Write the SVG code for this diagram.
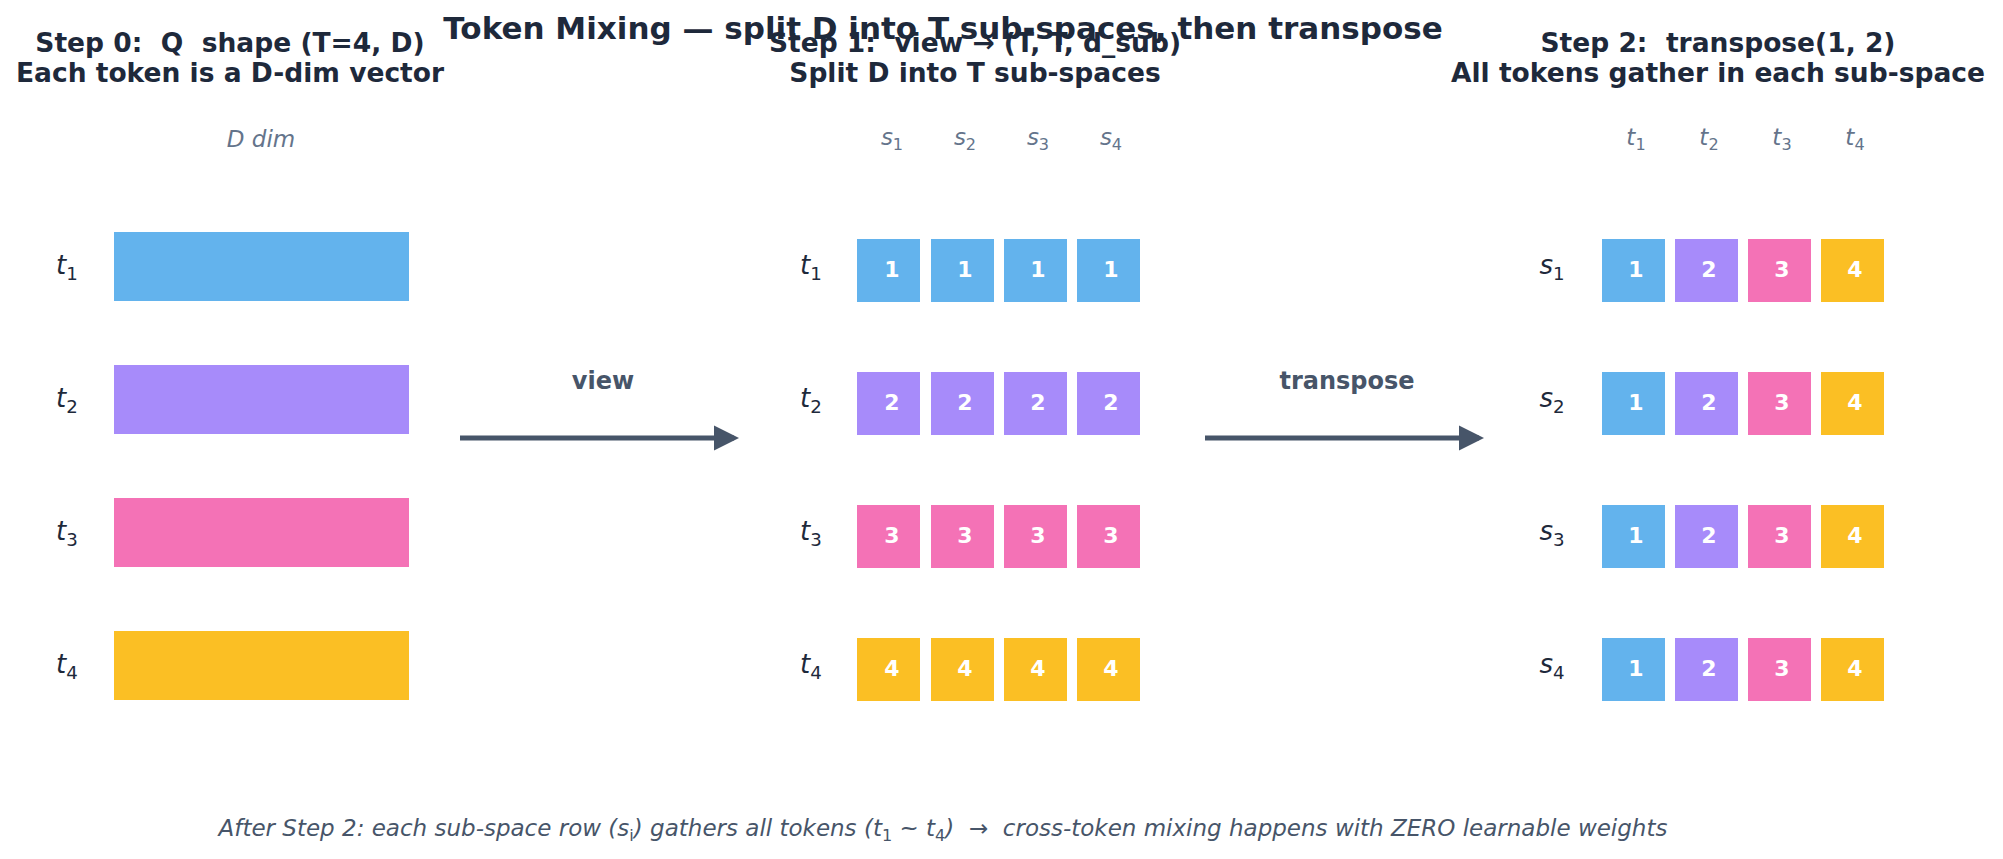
<svg xmlns="http://www.w3.org/2000/svg" width="2003" height="859" viewBox="0 0 2003 859">
<style>
text{font-family:"DejaVu Sans","Liberation Sans",sans-serif;white-space:pre}
.title{font-size:31px;font-weight:bold;fill:#1e293b;text-anchor:middle}
.head{font-size:26.5px;font-weight:bold;fill:#1e293b;text-anchor:middle}
.hdr{font-size:23px;font-style:italic;fill:#64748b;text-anchor:middle}
.lab{font-size:26px;font-style:italic;fill:#1e293b;text-anchor:middle}
.num{font-size:22px;font-weight:bold;fill:#fff;text-anchor:middle}
.alab{font-size:24px;font-weight:bold;fill:#475569;text-anchor:middle}
.foot{font-size:23px;font-style:italic;fill:#475569;text-anchor:middle}
.sub{font-size:0.7em;font-style:normal}
.c1{fill:#63b3ed}.c2{fill:#a78bfa}.c3{fill:#f472b6}.c4{fill:#fbbf24}
.arr{stroke:#475569;stroke-width:5;fill:none;marker-end:url(#ah)}
</style>
<defs>
<marker id="ah" markerWidth="6" markerHeight="6" refX="4" refY="3" orient="auto" markerUnits="strokeWidth"><path d="M0,0.5 L5,3 L0,5.5 Z" fill="#475569"/></marker>
</defs>
<rect width="2003" height="859" fill="#fff"/>
<text class="title" x="943" y="39">Token Mixing — split D into T sub-spaces, then transpose</text>
<text class="head" x="230" y="52" xml:space="preserve">Step 0:  Q  shape (T=4, D)</text>
<text class="head" x="230" y="82">Each token is a D-dim vector</text>
<text class="head" x="975" y="52" xml:space="preserve">Step 1:  view → (T, T, d_sub)</text>
<text class="head" x="975" y="82">Split D into T sub-spaces</text>
<text class="head" x="1718" y="52" xml:space="preserve">Step 2:  transpose(1, 2)</text>
<text class="head" x="1718" y="82">All tokens gather in each sub-space</text>

<g id="step0">
<text class="hdr" x="261" y="147">D dim</text>
<g id="s0r1"><text class="lab" x="67" y="274">t<tspan class="sub" dy="6">1</tspan></text><rect class="c1" x="114" y="232" width="295" height="69"/></g>
<g id="s0r2"><text class="lab" x="67" y="407">t<tspan class="sub" dy="6">2</tspan></text><rect class="c2" x="114" y="365" width="295" height="69"/></g>
<g id="s0r3"><text class="lab" x="67" y="540">t<tspan class="sub" dy="6">3</tspan></text><rect class="c3" x="114" y="498" width="295" height="69"/></g>
<g id="s0r4"><text class="lab" x="67" y="673">t<tspan class="sub" dy="6">4</tspan></text><rect class="c4" x="114" y="631" width="295" height="69"/></g>
</g>

<g id="step1">
<text class="hdr" x="892" y="145">s<tspan class="sub" dy="5">1</tspan></text>
<text class="hdr" x="965" y="145">s<tspan class="sub" dy="5">2</tspan></text>
<text class="hdr" x="1038" y="145">s<tspan class="sub" dy="5">3</tspan></text>
<text class="hdr" x="1111" y="145">s<tspan class="sub" dy="5">4</tspan></text>
<g id="s1r1"><text class="lab" x="811" y="274">t<tspan class="sub" dy="6">1</tspan></text>
<rect class="c1" x="857" y="239" width="63" height="63"/><rect class="c1" x="931" y="239" width="63" height="63"/><rect class="c1" x="1004" y="239" width="63" height="63"/><rect class="c1" x="1077" y="239" width="63" height="63"/>
<text class="num" x="892" y="277">1</text><text class="num" x="965" y="277">1</text><text class="num" x="1038" y="277">1</text><text class="num" x="1111" y="277">1</text></g>
<g id="s1r2"><text class="lab" x="811" y="407">t<tspan class="sub" dy="6">2</tspan></text>
<rect class="c2" x="857" y="372" width="63" height="63"/><rect class="c2" x="931" y="372" width="63" height="63"/><rect class="c2" x="1004" y="372" width="63" height="63"/><rect class="c2" x="1077" y="372" width="63" height="63"/>
<text class="num" x="892" y="410">2</text><text class="num" x="965" y="410">2</text><text class="num" x="1038" y="410">2</text><text class="num" x="1111" y="410">2</text></g>
<g id="s1r3"><text class="lab" x="811" y="540">t<tspan class="sub" dy="6">3</tspan></text>
<rect class="c3" x="857" y="505" width="63" height="63"/><rect class="c3" x="931" y="505" width="63" height="63"/><rect class="c3" x="1004" y="505" width="63" height="63"/><rect class="c3" x="1077" y="505" width="63" height="63"/>
<text class="num" x="892" y="543">3</text><text class="num" x="965" y="543">3</text><text class="num" x="1038" y="543">3</text><text class="num" x="1111" y="543">3</text></g>
<g id="s1r4"><text class="lab" x="811" y="673">t<tspan class="sub" dy="6">4</tspan></text>
<rect class="c4" x="857" y="638" width="63" height="63"/><rect class="c4" x="931" y="638" width="63" height="63"/><rect class="c4" x="1004" y="638" width="63" height="63"/><rect class="c4" x="1077" y="638" width="63" height="63"/>
<text class="num" x="892" y="676">4</text><text class="num" x="965" y="676">4</text><text class="num" x="1038" y="676">4</text><text class="num" x="1111" y="676">4</text></g>
</g>

<g id="step2">
<text class="hdr" x="1636" y="145">t<tspan class="sub" dy="5">1</tspan></text>
<text class="hdr" x="1709" y="145">t<tspan class="sub" dy="5">2</tspan></text>
<text class="hdr" x="1782" y="145">t<tspan class="sub" dy="5">3</tspan></text>
<text class="hdr" x="1855" y="145">t<tspan class="sub" dy="5">4</tspan></text>
<g id="s2r1"><text class="lab" x="1552" y="274">s<tspan class="sub" dy="6">1</tspan></text>
<rect class="c1" x="1602" y="239" width="63" height="63"/><rect class="c2" x="1675" y="239" width="63" height="63"/><rect class="c3" x="1748" y="239" width="63" height="63"/><rect class="c4" x="1821" y="239" width="63" height="63"/>
<text class="num" x="1636" y="277">1</text><text class="num" x="1709" y="277">2</text><text class="num" x="1782" y="277">3</text><text class="num" x="1855" y="277">4</text></g>
<g id="s2r2"><text class="lab" x="1552" y="407">s<tspan class="sub" dy="6">2</tspan></text>
<rect class="c1" x="1602" y="372" width="63" height="63"/><rect class="c2" x="1675" y="372" width="63" height="63"/><rect class="c3" x="1748" y="372" width="63" height="63"/><rect class="c4" x="1821" y="372" width="63" height="63"/>
<text class="num" x="1636" y="410">1</text><text class="num" x="1709" y="410">2</text><text class="num" x="1782" y="410">3</text><text class="num" x="1855" y="410">4</text></g>
<g id="s2r3"><text class="lab" x="1552" y="540">s<tspan class="sub" dy="6">3</tspan></text>
<rect class="c1" x="1602" y="505" width="63" height="63"/><rect class="c2" x="1675" y="505" width="63" height="63"/><rect class="c3" x="1748" y="505" width="63" height="63"/><rect class="c4" x="1821" y="505" width="63" height="63"/>
<text class="num" x="1636" y="543">1</text><text class="num" x="1709" y="543">2</text><text class="num" x="1782" y="543">3</text><text class="num" x="1855" y="543">4</text></g>
<g id="s2r4"><text class="lab" x="1552" y="673">s<tspan class="sub" dy="6">4</tspan></text>
<rect class="c1" x="1602" y="638" width="63" height="63"/><rect class="c2" x="1675" y="638" width="63" height="63"/><rect class="c3" x="1748" y="638" width="63" height="63"/><rect class="c4" x="1821" y="638" width="63" height="63"/>
<text class="num" x="1636" y="676">1</text><text class="num" x="1709" y="676">2</text><text class="num" x="1782" y="676">3</text><text class="num" x="1855" y="676">4</text></g>
</g>

<g id="connectors">
<line class="arr" x1="460" y1="438" x2="734" y2="438"/>
<text class="alab" x="603" y="389">view</text>
<line class="arr" x1="1205" y1="438" x2="1479" y2="438"/>
<text class="alab" x="1347" y="389">transpose</text>
</g>

<text class="foot" x="943" y="836" xml:space="preserve">After Step 2: each sub-space row (s<tspan class="sub" dy="5">i</tspan><tspan dy="-5">) gathers all tokens (t</tspan><tspan class="sub" dy="5">1</tspan><tspan dy="-5"> ~ t</tspan><tspan class="sub" dy="5">4</tspan><tspan dy="-5">)  →  cross-token mixing happens with ZERO learnable weights</tspan></text>
</svg>
